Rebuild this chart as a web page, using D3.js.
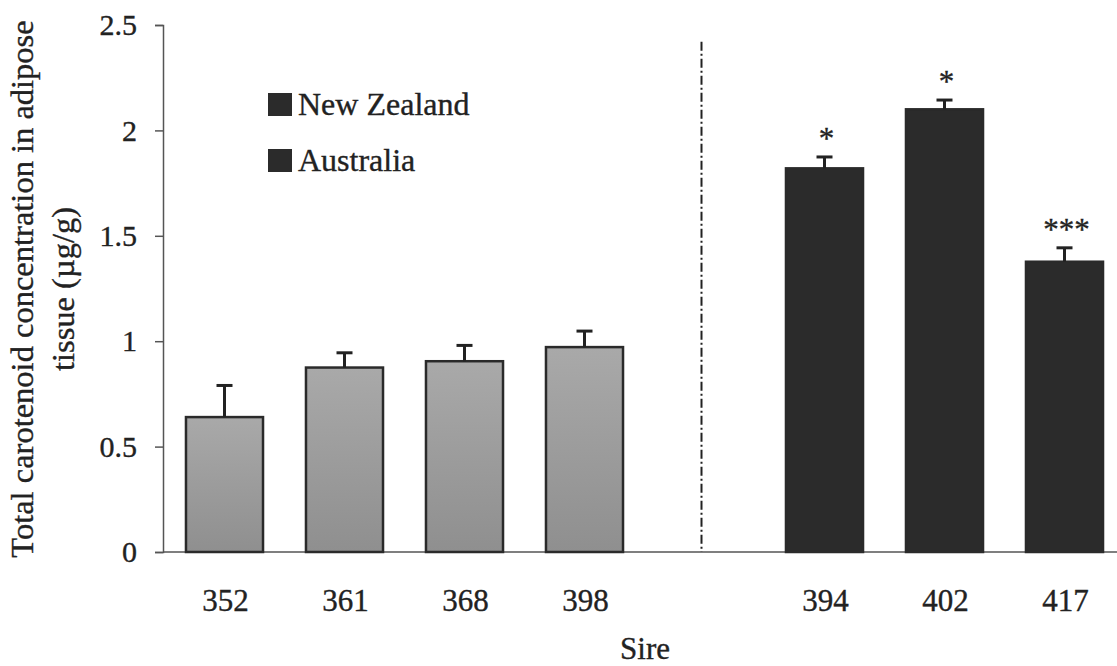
<!DOCTYPE html>
<html>
<head>
<meta charset="utf-8">
<script src="https://cdn.jsdelivr.net/npm/d3@7"></script>
<style>
  body { margin: 0; background: #fff; }
  svg text { font-family: "Liberation Serif", "Times New Roman", serif; fill: #222; stroke: #222; stroke-width: 0.35px; }
</style>
</head>
<body>
<svg id="chart" width="1117" height="666"></svg>
<script>
// Sires in plotting order ("gap" is the empty slot before the dashed divider)
const slots = ["352", "361", "368", "398", "gap", "394", "402", "417"];
const sires = ["352", "361", "368", "398", "394", "402", "417"];
const origin = ["NZ", "NZ", "NZ", "NZ", "AU", "AU", "AU"];
const means = [0.64, 0.875, 0.905, 0.972, 1.82, 2.10, 1.377];
const errors = [0.15, 0.07, 0.075, 0.076, 0.054, 0.044, 0.066];
const signif = ["", "", "", "", "*", "*", "***"];
const yTicks = [0, 0.5, 1, 1.5, 2, 2.5];
const legendLabels = ["New Zealand", "Australia"];

const svg = d3.select("#chart");

// gradient for the New Zealand bars
const defs = svg.append("defs");
const grad = defs.append("linearGradient")
    .attr("id", "nzGrad")
    .attr("x1", 0).attr("y1", 0).attr("x2", 0).attr("y2", 1);
grad.append("stop").attr("offset", "0%").attr("stop-color", "#a9a9a9");
grad.append("stop").attr("offset", "100%").attr("stop-color", "#8f8f8f");

const y = d3.scaleLinear().domain([0, 2.5]).range([552, 25]);
const x = d3.scaleBand()
    .domain(slots)
    .range([164.5, 1124.5])
    .paddingInner(0.358)
    .paddingOuter(0.179);

const axisX = 163;

// y axis
const yAxis = svg.append("g")
    .attr("transform", `translate(${axisX},0)`)
    .call(d3.axisLeft(y).tickValues(yTicks).tickFormat(d => d).tickSize(8).tickPadding(18));
yAxis.attr("font-family", null).attr("font-size", null);
yAxis.select(".domain").attr("stroke", "#555").attr("stroke-width", 1.5);
yAxis.selectAll(".tick line").attr("stroke", "#555").attr("stroke-width", 1.5);
yAxis.selectAll(".tick text")
    .style("font-size", "30px")
    .attr("fill", "#222");

// x axis line
svg.append("line")
    .attr("x1", axisX).attr("x2", 1117)
    .attr("y1", y(0)).attr("y2", y(0))
    .attr("stroke", "#555").attr("stroke-width", 1.5);

// dashed divider between the two groups
const divX = x("gap") + x.bandwidth() / 2 - 3;
svg.append("line")
    .attr("x1", divX).attr("x2", divX)
    .attr("y1", y(2.42)).attr("y2", y(0))
    .attr("stroke", "#222").attr("stroke-width", 2)
    .attr("stroke-dasharray", "9,3,2,3");

const rows = sires.map((s, i) => ({ sire: s, origin: origin[i], mean: means[i], err: errors[i], sig: signif[i] }));

// bars
svg.append("g").selectAll("rect")
    .data(rows)
    .join("rect")
    .attr("x", d => x(d.sire))
    .attr("y", d => y(d.mean))
    .attr("width", x.bandwidth())
    .attr("height", d => y(0) - y(d.mean))
    .attr("fill", d => d.origin === "NZ" ? "url(#nzGrad)" : "#2b2b2b")
    .attr("stroke", "#2a2a2a")
    .attr("stroke-width", 2.5);

// error bars (upper only)
const eb = svg.append("g").attr("stroke", "#222").attr("stroke-width", 3);
rows.forEach(d => {
    const cx = x(d.sire) + x.bandwidth() / 2;
    eb.append("line")
        .attr("x1", cx).attr("x2", cx)
        .attr("y1", y(d.mean)).attr("y2", y(d.mean + d.err));
    eb.append("line")
        .attr("x1", cx - 8).attr("x2", cx + 8)
        .attr("y1", y(d.mean + d.err)).attr("y2", y(d.mean + d.err));
});

// significance stars
svg.append("g").selectAll("text")
    .data(rows.filter(d => d.sig))
    .join("text")
    .attr("x", d => x(d.sire) + x.bandwidth() / 2 + 2)
    .attr("y", d => y(d.mean + d.err) - 8)
    .attr("text-anchor", "middle")
    .style("font-size", "31px")
    .text(d => d.sig);

// x tick labels
svg.append("g").selectAll("text")
    .data(sires)
    .join("text")
    .attr("x", d => x(d) + x.bandwidth() / 2 + 1)
    .attr("y", 611)
    .attr("text-anchor", "middle")
    .style("font-size", "31px")
    .text(d => d);

// x axis title
svg.append("text")
    .attr("x", 645).attr("y", 659)
    .attr("text-anchor", "middle")
    .style("font-size", "31px")
    .text("Sire");

// y axis title (two lines)
const yTitle = svg.append("text")
    .attr("transform", "translate(33,289) rotate(-90)")
    .attr("text-anchor", "middle")
    .style("font-size", "32.5px");
yTitle.append("tspan").attr("x", 0).attr("dy", 0).text("Total carotenoid concentration in adipose");
yTitle.append("tspan").attr("x", 0).attr("dy", 41).text("tissue (µg/g)");

// legend (both swatches drawn dark, as in the original)
const legend = svg.append("g");
legendLabels.forEach((lab, i) => {
    const ly = 93 + i * 56;
    legend.append("rect")
        .attr("x", 268).attr("y", ly)
        .attr("width", 24).attr("height", 23)
        .attr("fill", "#2b2b2b");
    legend.append("text")
        .attr("x", 298).attr("y", ly + 22)
        .style("font-size", "32px")
        .text(lab);
});
</script>
</body>
</html>
